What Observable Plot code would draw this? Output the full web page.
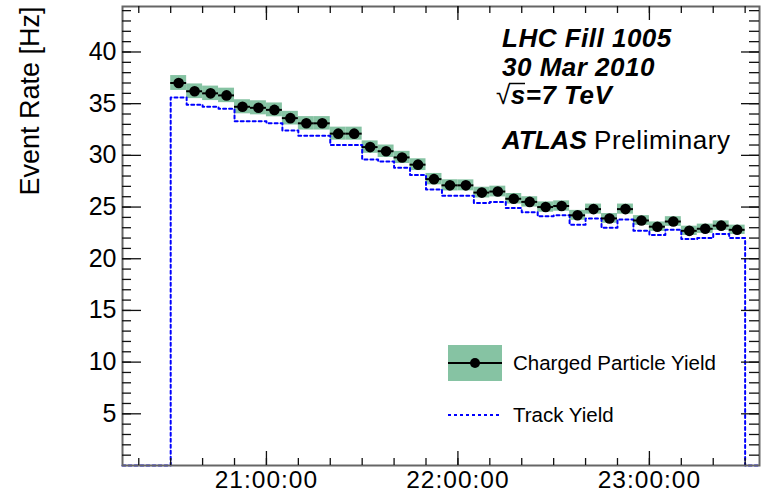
<!DOCTYPE html>
<html><head><meta charset="utf-8">
<script src="https://cdn.jsdelivr.net/npm/d3@7"></script>
<script src="https://cdn.jsdelivr.net/npm/@observablehq/plot@0.6"></script>
<style>
body{margin:0;background:#fff}
svg{font-family:"Liberation Sans",Arial,Helvetica,sans-serif}
</style>
</head><body><div id="chart"></div>
<script>
// ---- data ----
const binStarts = ["20:30","20:35","20:40","20:45","20:50","20:55","21:00","21:05","21:10","21:15","21:20","21:25",
  "21:30","21:35","21:40","21:45","21:50","21:55","22:00","22:05","22:10","22:15","22:20","22:25",
  "22:30","22:35","22:40","22:45","22:50","22:55","23:00","23:05","23:10","23:15","23:20","23:25"];
const chargedYield = [37.0,36.2,36.0,35.8,34.7,34.6,34.4,33.6,33.1,33.1,32.1,32.1,
  30.8,30.4,29.8,29.1,27.7,27.1,27.1,26.4,26.5,25.8,25.5,25.0,
  25.1,24.2,24.8,23.9,24.8,23.7,23.1,23.6,22.7,22.9,23.2,22.8];
const chargedErr = [0.72,0.71,0.70,0.70,0.68,0.68,0.67,0.66,0.65,0.65,0.63,0.63,
  0.60,0.60,0.59,0.57,0.55,0.54,0.53,0.52,0.52,0.51,0.50,0.50,
  0.50,0.48,0.49,0.47,0.49,0.47,0.46,0.47,0.45,0.45,0.46,0.45];
const trackYield = [35.6,34.9,34.7,34.5,33.3,33.3,33.1,32.4,31.9,31.9,31.0,31.0,
  29.6,29.4,28.8,28.1,26.7,26.1,26.1,25.4,25.5,24.9,24.5,24.1,
  24.2,23.3,23.9,23.0,23.8,22.7,22.3,22.8,21.9,22.0,22.4,22.0];
const histEnd = "23:30";
const xDomain = ["20:14:54","23:34:30"];
const xTickLabels = ["21:00:00","22:00:00","23:00:00"];
const yTickLabels = [5,10,15,20,25,30,35,40];
const yMax = 44.4;
const DAY = "2010-03-30";

// ---- helpers ----
const t = s => new Date(`${DAY}T${s.length === 5 ? s + ":00" : s}Z`);
const BIN = 5 * 60e3;
const rows = binStarts.map((s, i) => ({
  x1: t(s), x2: new Date(+t(s) + BIN), xm: new Date(+t(s) + BIN / 2),
  v: chargedYield[i], e: chargedErr[i], tr: trackYield[i]
}));
const dom = xDomain.map(t);
const stepPts = [{t: dom[0], v: 0}, ...rows.map(r => ({t: r.x1, v: r.tr})), {t: t(histEnd), v: 0}, {t: dom[1], v: 0}];

const W = 763, H = 493, ML = 122, MR = 4, MT = 6, MB = 28;
const FW = W - ML - MR, FH = H - MT - MB;
const green = "#86c3a3";
const xMinor = d3.utcMinute.every(10).range(dom[0], dom[1]);
const xMajor = xTickLabels.map(t);
const yMinor = d3.range(1, Math.floor(yMax) + 1);
const tickCol = "#111";

const svg = Plot.plot({
  width: W, height: H, marginLeft: ML, marginRight: MR, marginTop: MT, marginBottom: MB,
  style: {fontFamily: '"Liberation Sans",Arial,sans-serif', background: "#fff"},
  x: {type: "utc", domain: dom, axis: null},
  y: {domain: [0, yMax], axis: null},
  marks: [
    Plot.rect(rows, {x1: "x1", x2: "x2", y1: d => d.v - d.e, y2: d => d.v + d.e, fill: green}),
    Plot.line(stepPts, {x: "t", y: "v", curve: "step-after", stroke: "#0000ff", strokeWidth: 2, strokeDasharray: "3,3"}),
    Plot.ruleY(rows, {x1: "x1", x2: "x2", y: "v", stroke: "black", strokeWidth: 2}),
    Plot.dot(rows, {x: "xm", y: "v", r: 5.3, fill: "black", stroke: "none"}),
    Plot.frame({stroke: "#666", strokeWidth: 2}),
    // inward ticks, bottom & top
    Plot.tickX(xMinor, {x: d => d, insetTop: FH - 7, stroke: tickCol, strokeWidth: 1.3}),
    Plot.tickX(xMajor, {x: d => d, insetTop: FH - 14, stroke: tickCol, strokeWidth: 1.3}),
    Plot.tickX(xMinor, {x: d => d, insetBottom: FH - 7, stroke: tickCol, strokeWidth: 1.3}),
    Plot.tickX(xMajor, {x: d => d, insetBottom: FH - 14, stroke: tickCol, strokeWidth: 1.3}),
    // inward ticks, left & right
    Plot.tickY(yMinor, {y: d => d, insetRight: FW - 9, stroke: tickCol, strokeWidth: 1.3}),
    Plot.tickY(yTickLabels, {y: d => d, insetRight: FW - 19, stroke: tickCol, strokeWidth: 1.3}),
    Plot.tickY(yMinor, {y: d => d, insetLeft: FW - 10, stroke: tickCol, strokeWidth: 1.3}),
    Plot.tickY(yTickLabels, {y: d => d, insetLeft: FW - 18, stroke: tickCol, strokeWidth: 1.3}),
    Plot.axisX(xMajor, {anchor: "bottom", tickSize: 0, tickPadding: 5, tickFormat: d3.utcFormat("%H:%M:%S"), fontSize: 24.5, label: null, fill: "#000"}),
    Plot.axisY(yTickLabels, {anchor: "left", tickSize: 0, tickPadding: 6, fontSize: 25, label: null, fill: "#000"}),
    Plot.text(["Event Rate [Hz]"], {text: d => d, frameAnchor: "left", dx: -92, dy: -135, rotate: -90,
      fontSize: 27, textAnchor: "middle", lineAnchor: "middle", fill: "#000"})
  ]
});

const s = d3.select(svg);
s.selectAll('[aria-label="x-axis tick label"] text').style("letter-spacing", "1px");

// annotations
const ann = s.append("g").attr("fill", "#000").attr("text-anchor", "start");
const bi = (txt, x, y, size, ls) => ann.append("text").attr("x", x).attr("y", y)
  .attr("font-size", size).attr("font-weight", "bold").attr("font-style", "italic")
  .style("letter-spacing", ls).text(txt);
bi("LHC Fill 1005", 502, 47, 26, "0.5px");
bi("30 Mar 2010", 502, 75.5, 26, "0.5px");
const sq = ann.append("text").attr("x", 496).attr("y", 103.5).attr("font-size", 26)
  .attr("font-weight", "bold").attr("font-style", "italic").style("letter-spacing", "0.5px");
sq.append("tspan").attr("font-weight", "normal").attr("font-style", "normal").text("√");
sq.append("tspan").text("s=7 TeV");
// overline of the sqrt sign
ann.append("line").attr("x1", 509).attr("x2", 525).attr("y1", 83.5).attr("y2", 83.5)
  .attr("stroke", "#000").attr("stroke-width", 1.5);
bi("ATLAS", 502, 149, 26, "0px");
ann.append("text").attr("x", 594).attr("y", 149).attr("font-size", 26)
  .style("letter-spacing", "0.6px").text("Preliminary");

// legend
const lg = s.append("g").attr("text-anchor", "start");
lg.append("rect").attr("x", 448).attr("y", 345).attr("width", 54).attr("height", 36).attr("fill", green);
lg.append("line").attr("x1", 448).attr("x2", 502).attr("y1", 363).attr("y2", 363).attr("stroke", "#000").attr("stroke-width", 2);
lg.append("circle").attr("cx", 475).attr("cy", 363).attr("r", 5).attr("fill", "#000");
lg.append("text").attr("x", 513).attr("y", 370).attr("font-size", 20.5).attr("fill", "#000").text("Charged Particle Yield");
lg.append("line").attr("x1", 448).attr("x2", 500).attr("y1", 415).attr("y2", 415).attr("stroke", "#0000ff")
  .attr("stroke-width", 2).attr("stroke-dasharray", "3,3");
lg.append("text").attr("x", 513).attr("y", 422).attr("font-size", 20.5).attr("fill", "#000").text("Track Yield");

document.getElementById("chart").appendChild(svg);
</script>
</body></html>
